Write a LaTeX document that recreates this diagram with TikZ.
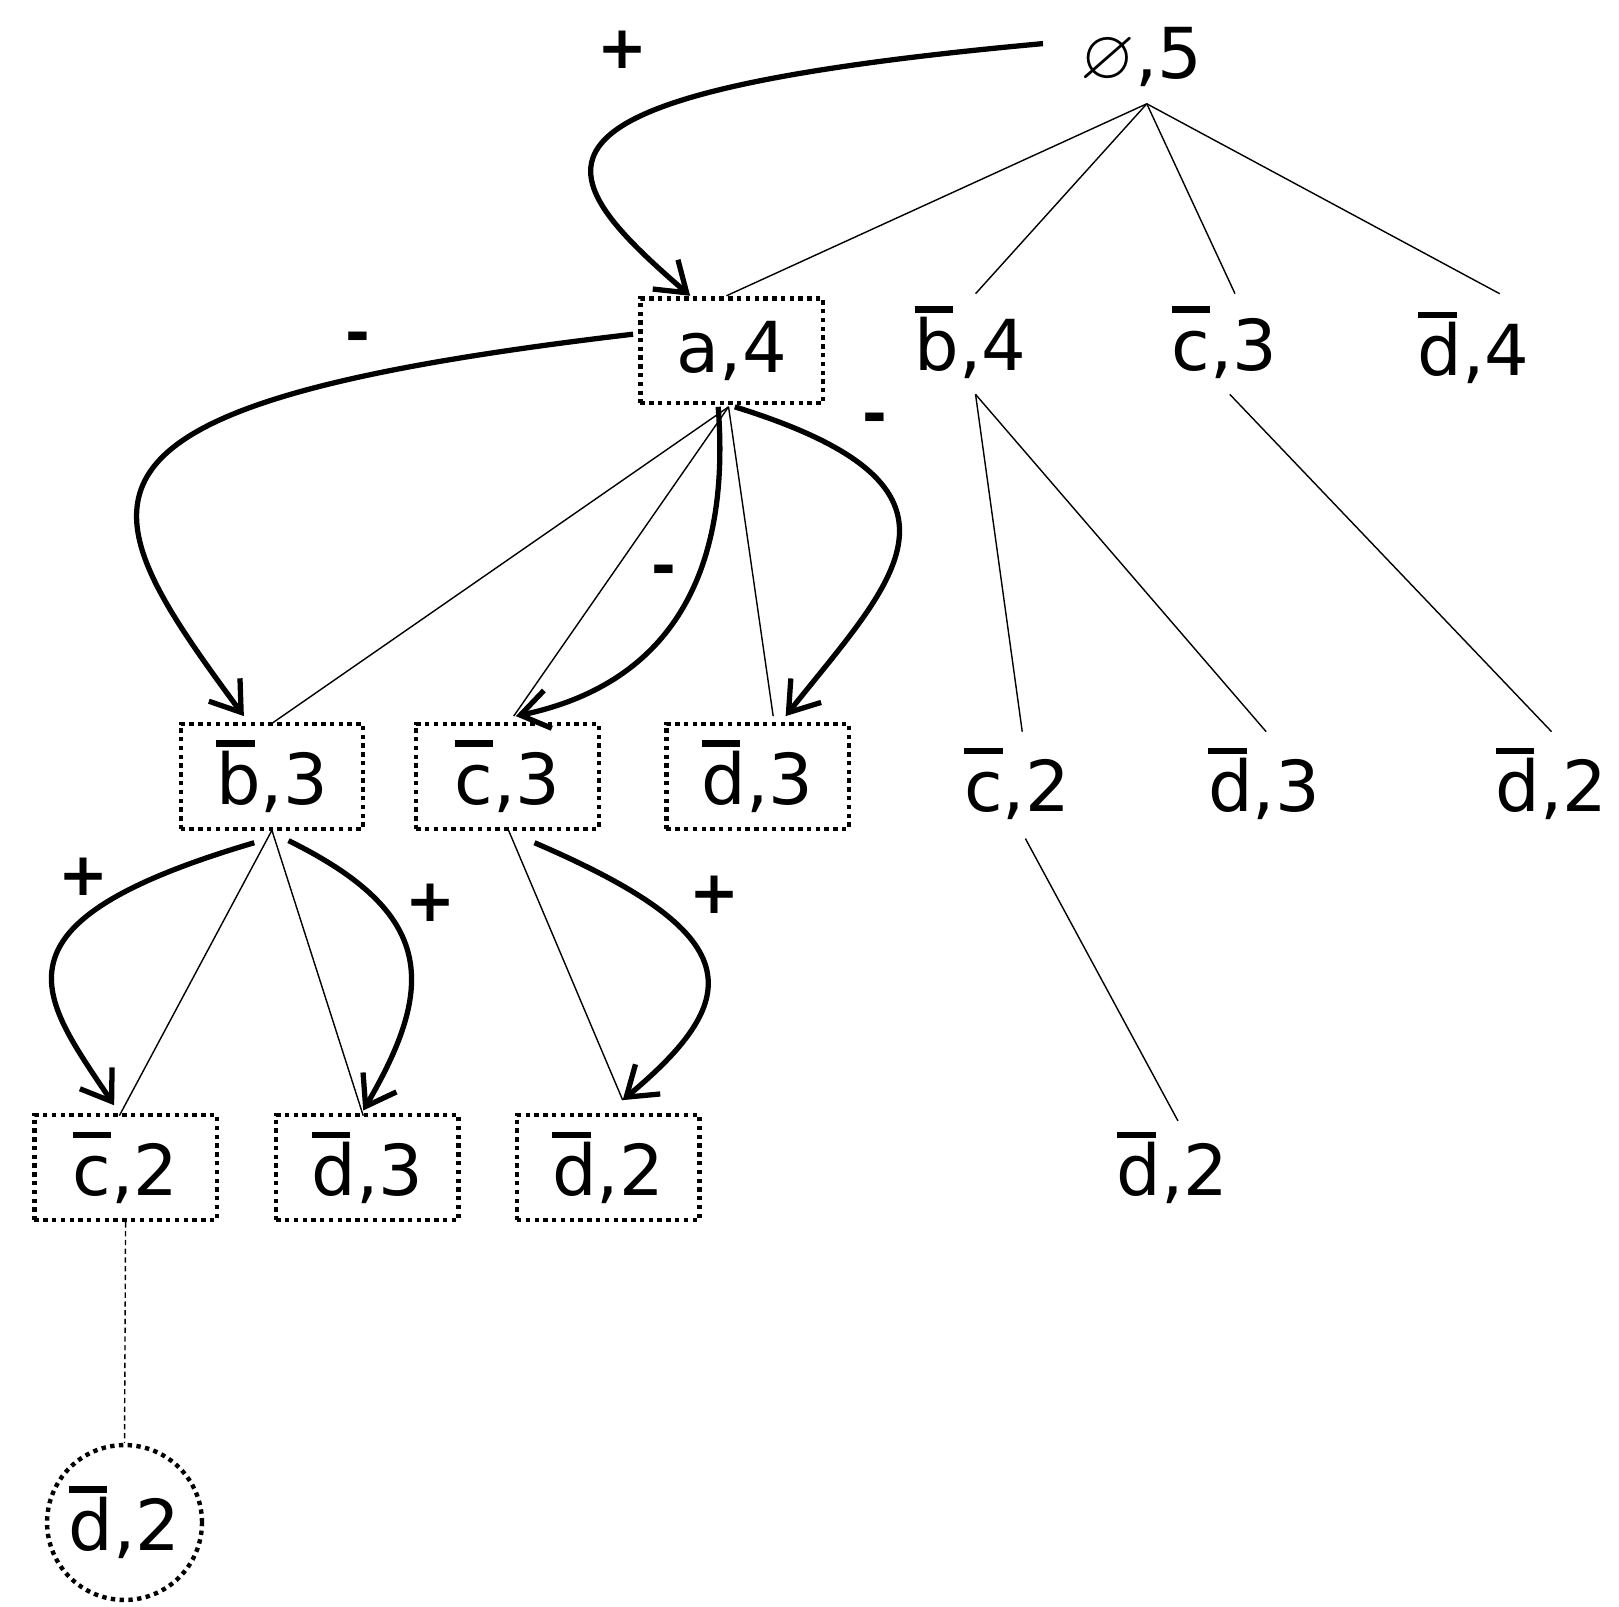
\documentclass[tikz,border=0pt]{standalone}
\usepackage{fontspec}
\setmainfont{DejaVu Sans}
\usepackage{amssymb}
\usetikzlibrary{arrows.meta}
\newcommand{\nb}[1]{\leavevmode\rlap{\raisebox{0.82em}{\rule{0.55em}{0.09em}}}#1}
\begin{document}
\begin{tikzpicture}[>=stealth, x=0.02077cm, y=-0.02077cm, semithick,
    lbl/.style={font=\fontsize{40}{46}\selectfont, inner sep=0pt},
    box/.style={lbl, draw, dash pattern=on 2.5pt off 2.5pt, line width=2.5pt, minimum width=3.65cm, minimum height=2.1cm},
    ring/.style={lbl, draw, circle, dash pattern=on 2.5pt off 2.5pt, line width=2.5pt, minimum size=3.1cm},
    edge/.style={line width=0.8pt},
    jump/.style={-{Straight Barb[length=16pt,width=22pt,line width=3pt]}, line width=3pt},
    sign/.style={font=\fontsize{34}{40}\selectfont\bfseries}]
    \useasboundingbox (0,0) rectangle (1560,1548);
		\node[lbl] (root) at (1100,55) {$\varnothing$,5};
		\node[box] (a4) at (705,338) {a,4};
		\node[lbl] (b4) at (935,330) {\nb{b},4};
		\node[lbl] (c3) at (1180,330) {\nb{c},3};
		\node[lbl] (d4) at (1420,335) {\nb{d},4};
		\node[box] (ab3) at (262,748) {\nb{b},3};
		\node[box] (ac3) at (489,748) {\nb{c},3};
		\node[box] (ad3) at (730,748) {\nb{d},3};
		\node[lbl] (bc2) at (980,755) {\nb{c},2};
		\node[lbl] (bd3) at (1218,755) {\nb{d},3};
		\node[lbl] (cd2) at (1495,755) {\nb{d},2};
		\node[box] (abc2) at (121,1125) {\nb{c},2};
		\node[box] (abd3) at (354,1125) {\nb{d},3};
		\node[box] (acd2) at (586,1125) {\nb{d},2};
		\node[lbl] (bcd2) at (1130,1125) {\nb{d},2};
		\node[ring] (abcd2) at (120,1467) {\nb{d},2};
		% tree edges
		\coordinate (r0) at (1105,100);
		\coordinate (a0) at (702,392);
		\draw[edge] (r0) -- (700,285);
		\draw[edge] (r0) -- (940,283);
		\draw[edge] (r0) -- (1190,283);
		\draw[edge] (r0) -- (1445,283);
		\draw[edge] (a0) -- (262,697);
		\draw[edge] (a0) -- (495,690);
		\draw[edge] (a0) -- (745,690);
		\draw[edge] (940,380) -- (985,705);
		\draw[edge] (940,380) -- (1220,705);
		\draw[edge] (1185,380) -- (1495,705);
		\draw[edge] (262,800) -- (115,1075);
		\draw[edge] (262,800) -- (350,1075);
		\draw[edge] (490,800) -- (600,1060);
		\draw[edge] (988,808) -- (1135,1080);
		\draw[edge, densely dashed] (abc2.south) -- (abcd2.north);
		% search arrows
		\draw[jump] (1005,42) .. controls (480,90) and (520,160) .. (665,285);
		\draw[jump] (610,322) .. controls (30,390) and (80,480) .. (235,690);
		\draw[jump] (692,392) .. controls (705,560) and (640,660) .. (497,690);
		\draw[jump] (708,392) .. controls (960,470) and (860,560) .. (757,690);
		\draw[jump] (245,812) .. controls (-20,890) and (40,960) .. (110,1065);
		\draw[jump] (278,810) .. controls (420,880) and (420,950) .. (350,1070);
		\draw[jump] (515,812) .. controls (720,900) and (720,960) .. (600,1060);
		\node[sign] (s1) at (600,48) {+};
		\node[sign] (s2) at (345,330) {-};
		\node[sign] (s3) at (640,555) {-};
		\node[sign] (s4) at (843,408) {-};
		\node[sign] (s5) at (80,845) {+};
		\node[sign] (s6) at (415,870) {+};
		\node[sign] (s7) at (688,862) {+};
    \end{tikzpicture}
\end{document}
